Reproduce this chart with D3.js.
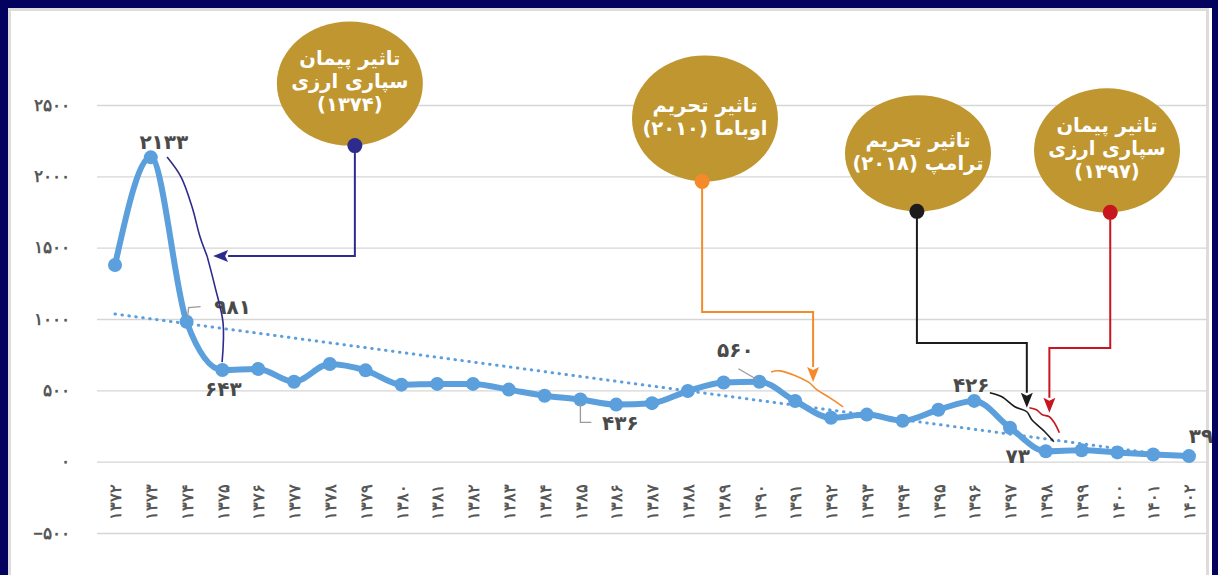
<!DOCTYPE html>
<html>
  <head>
    <meta charset="utf-8">
    <title>تاثیر تحریم و پیمان سپاری ارزی</title>
    <script src="https://d3js.org/d3.v7.min.js"></script>
    <style>
      body { margin: 0; overflow: hidden; background: #fff; }
      svg { display: block; font-family: "DejaVu Sans", sans-serif; }
      .axis text { fill: #575757; font-weight: bold; }
      .fa { direction: rtl; unicode-bidi: embed; }
    </style>
  </head>
  <body>
    <svg id="chart" width="1218" height="575"></svg>
    <script>
      // data
      var years = [1372, 1373, 1374, 1375, 1376, 1377, 1378, 1379, 1380, 1381, 1382,
                   1383, 1384, 1385, 1386, 1387, 1388, 1389, 1390, 1391, 1392, 1393,
                   1394, 1395, 1396, 1397, 1398, 1399, 1400, 1401, 1402];
      var values = [1378, 2133, 981, 643, 650, 560, 685, 640, 540, 545, 545,
                    505, 462, 436, 400, 410, 495, 555, 560, 425, 308, 330,
                    287, 364, 426, 238, 73, 80, 65, 50, 39];
      var yTicks = [-500, 0, 500, 1000, 1500, 2000, 2500];
      var trendYears = [1372, 1402];
      var trendValues = [1035, 25];
      var labelYears = [1373, 1374, 1375, 1385, 1390, 1396, 1398, 1402];

      // annotation bubbles
      var notes = [
        { lines: ["تاثیر پیمان", "سپاری ارزی", "(۱۳۷۴)"], year: 1378.56, value: 2650, ry: 62,
          color: "#2d2c8c", dotYear: 1378.7, route: [[1378.7, 1441], [1374.74, 1441]] },
        { lines: ["تاثیر تحریم", "اوباما (۲۰۱۰)"], year: 1388.48, value: 2406, ry: 63,
          color: "#f58a2b", dotYear: 1388.4, route: [[1388.4, 1049], [1391.5, 1049], [1391.5, 559]] },
        { lines: ["تاثیر تحریم", "ترامپ (۲۰۱۸)"], year: 1394.43, value: 2161, ry: 58,
          color: "#1c1c1c", dotYear: 1394.4, route: [[1394.4, 832], [1397.47, 832], [1397.47, 378]] },
        { lines: ["تاثیر پیمان", "سپاری ارزی", "(۱۳۹۷)"], year: 1399.71, value: 2182, ry: 62,
          color: "#c8161e", dotYear: 1399.8, route: [[1399.8, 797], [1398.1, 797], [1398.1, 343]] }
      ];

      var svg = d3.select("#chart");
      var width = 1218, height = 575;
      var x = d3.scaleLinear().domain([1372, 1402]).range([115, 1189]);
      var y = d3.scaleLinear().domain([-500, 2500]).range([533, 105]);
      var blue = "#5b9fdc";

      function fa(n) {
        var s = String(Math.abs(n)).replace(/[0-9]/g, function(c) { return "۰۱۲۳۴۵۶۷۸۹"[+c]; });
        return n < 0 ? "\u2212" + s : s;
      }

      // panel
      svg.append("rect")
        .attr("x", 9.5).attr("y", 9.5)
        .attr("width", width - 20).attr("height", height)
        .attr("fill", "#fff")
        .attr("stroke", "#dcdcdc")
        .attr("stroke-width", 3);

      // y axis with grid
      var yAxis = svg.append("g")
        .attr("class", "axis")
        .attr("transform", "translate(97,0)")
        .call(d3.axisLeft(y).tickValues(yTicks).tickSize(-1110).tickPadding(27).tickFormat(fa));
      yAxis.select(".domain").remove();
      yAxis.selectAll("line").attr("stroke", "#d6d6d6").attr("stroke-width", 1.3);
      yAxis.selectAll("text").attr("font-size", 16.5);

      // x axis, rotated labels
      var xAxis = svg.append("g")
        .attr("class", "axis")
        .attr("transform", "translate(0,502)")
        .call(d3.axisBottom(x).tickValues(years).tickSize(0).tickFormat(fa));
      xAxis.select(".domain").remove();
      xAxis.selectAll("text")
        .attr("font-size", 16)
        .attr("y", 0).attr("dy", "0.35em")
        .attr("transform", "rotate(-90)")
        .attr("text-anchor", "middle");

      // trend line
      svg.append("path")
        .datum(trendYears.map(function(d, i) { return [d, trendValues[i]]; }))
        .attr("fill", "none")
        .attr("stroke", blue)
        .attr("stroke-width", 3)
        .attr("stroke-linecap", "round")
        .attr("stroke-dasharray", "0.5,6.5")
        .attr("d", d3.line().x(function(d) { return x(d[0]); }).y(function(d) { return y(d[1]); }));

      // main line
      var pts = years.map(function(d, i) { return [d, values[i]]; });
      svg.append("path")
        .datum(pts)
        .attr("fill", "none")
        .attr("stroke", blue)
        .attr("stroke-width", 6)
        .attr("stroke-linejoin", "round")
        .attr("d", d3.line().curve(d3.curveMonotoneX)
          .x(function(d) { return x(d[0]); }).y(function(d) { return y(d[1]); }));
      svg.selectAll(".dot")
        .data(pts)
        .enter().append("circle")
          .attr("class", "dot")
          .attr("cx", function(d) { return x(d[0]); })
          .attr("cy", function(d) { return y(d[1]); })
          .attr("r", 7)
          .attr("fill", blue);

      // value labels: offsets and leader lines in pixels
      var labelStyle = {
        1373: { dx: 13, dy: -15 },
        1374: { dx: 46, dy: -15, leader: [[1, -4], [2, -14], [14, -15]] },
        1375: { dx: 1, dy: 19 },
        1385: { dx: 40, dy: 24, leader: [[0, 4], [0, 23], [11, 23]] },
        1390: { dx: -24, dy: -32, leader: [[-2, -2], [-21, -13]] },
        1396: { dx: -3, dy: -16 },
        1398: { dx: -28, dy: 5 },
        1402: { dx: 12, dy: -20 }
      };
      labelYears.forEach(function(yr) {
        var v = values[years.indexOf(yr)], s = labelStyle[yr];
        var px = x(yr), py = y(v);
        if (s.leader) {
          svg.append("path")
            .attr("fill", "none")
            .attr("stroke", "#9a9a9a")
            .attr("stroke-width", 1.3)
            .attr("d", d3.line()(s.leader.map(function(p) { return [px + p[0], py + p[1]]; })));
        }
        svg.append("text")
          .attr("x", px + s.dx)
          .attr("y", py + s.dy)
          .attr("dy", "0.35em")
          .attr("text-anchor", "middle")
          .attr("font-size", 20)
          .attr("font-weight", "bold")
          .attr("fill", "#4a4a4a")
          .text(fa(v));
      });

      // squiggles next to each arrow tip (pixel offsets from tip)
      var marks = [
        [[[-46, -99], [-32, -79], [-21, -49], [-13, -19], [-6, 0]], [[-6, 0], [2, 31], [10, 67], [9, 106]]],
        [[[-42, -10], [-33, -11], [-5, 0], [4, 8], [17, 16], [30, 25]]],
        [[[-37, -15], [-25, -11], [-12, -1], [0, 4], [5, 12], [18, 24], [27, 34]]],
        [[[-20, -5], [-13, -3], [-7, 2], [0, 4], [5, 10], [10, 20]]]
      ];

      var curve = d3.line().curve(d3.curveCatmullRom.alpha(0.5));
      notes.forEach(function(n, i) {
        var cx = x(n.year), cy = y(n.value);
        var dotX = x(n.dotYear), dotY = cy + n.ry;
        var path = [[dotX, dotY]].concat(n.route.map(function(p) { return [x(p[0]), y(p[1])]; }));
        var tip = path[path.length - 1], prev = path[path.length - 2];
        var ang = Math.atan2(tip[1] - prev[1], tip[0] - prev[0]);
        var len = 15, half = 6;
        var base = [tip[0] - len * Math.cos(ang), tip[1] - len * Math.sin(ang)];
        var lineEnd = path.slice(0, -1).concat([base]);
        svg.append("path")
          .attr("fill", "none")
          .attr("stroke", n.color)
          .attr("stroke-width", 2)
          .attr("d", d3.line()(lineEnd));
        svg.append("path")
          .attr("fill", n.color)
          .attr("d", "M" + tip + "L" + [base[0] + half * Math.sin(ang), base[1] - half * Math.cos(ang)]
            + "L" + [base[0] + 3 * Math.cos(ang), base[1] + 3 * Math.sin(ang)]
            + "L" + [base[0] - half * Math.sin(ang), base[1] + half * Math.cos(ang)] + "Z");
        marks[i].forEach(function(seg) {
          svg.append("path")
            .attr("fill", "none")
            .attr("stroke", n.color)
            .attr("stroke-width", 1.6)
            .attr("d", curve(seg.map(function(p) { return [tip[0] + p[0], tip[1] + p[1]]; })));
        });
        svg.append("ellipse")
          .attr("cx", cx).attr("cy", cy)
          .attr("rx", 73).attr("ry", n.ry)
          .attr("fill", "#bf962f");
        svg.append("circle")
          .attr("cx", dotX).attr("cy", dotY)
          .attr("r", 7.5)
          .attr("fill", n.color);
        var lh = 23, top = cy - (n.lines.length - 1) * lh / 2 - 2;
        n.lines.forEach(function(t, j) {
          svg.append("text")
            .attr("class", "fa")
            .attr("x", cx)
            .attr("y", top + j * lh)
            .attr("dy", "0.35em")
            .attr("text-anchor", "middle")
            .attr("font-size", 19.5)
            .attr("font-weight", "bold")
            .attr("fill", "#fff")
            .text(t);
        });
      });

      // navy frame
      var navy = "#03035f";
      svg.append("rect").attr("x", 0).attr("y", 0).attr("width", width).attr("height", 8).attr("fill", navy);
      svg.append("rect").attr("x", 0).attr("y", 0).attr("width", 8).attr("height", height).attr("fill", navy);
      svg.append("rect").attr("x", width - 6).attr("y", 0).attr("width", 6).attr("height", height).attr("fill", navy);
    </script>
  </body>
</html>
